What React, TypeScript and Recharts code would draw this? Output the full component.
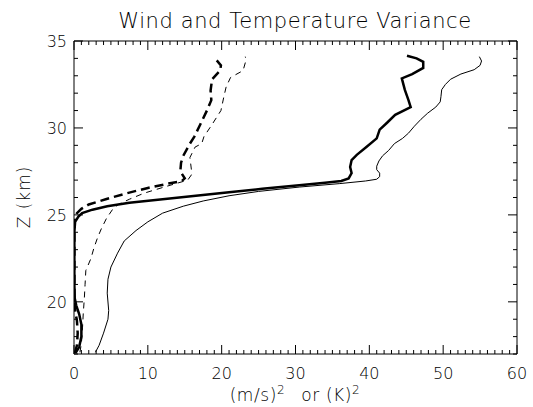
import React from "react";
import {
  ScatterChart,
  Scatter,
  XAxis,
  YAxis,
  Customized,
} from "recharts";

// heights (km) and variances for each profile
const thickSolidZ = [17.05, 17.4, 18.0, 18.7, 19.3, 19.8, 20.2, 21, 22, 23, 24, 24.6, 24.9, 25.1, 25.3, 25.5, 25.7, 25.9, 26.1, 26.3, 26.5, 26.7, 26.85, 26.95, 27.1, 27.4, 27.75, 28.15, 28.45, 28.9, 29.4, 29.9, 30.3, 30.75, 31.2, 31.6, 32.2, 32.85, 33.1, 33.45, 33.8, 34.0, 34.15];
const thickSolidX = [0.2, 0.7, 1.0, 1.0, 0.7, 0.3, 0.1, 0.05, 0.05, 0.05, 0.05, 0.15, 0.6, 1.1, 2.5, 4.5, 7.5, 12.0, 16.5, 21.0, 25.5, 30.5, 34.0, 36.2, 37.2, 37.6, 37.4, 37.6, 38.3, 39.6, 41.0, 41.4, 42.4, 43.5, 45.6, 45.3, 44.8, 44.4, 45.8, 47.3, 47.3, 46.4, 45.1];

const thinSolidZ = [17.1, 17.5, 18.2, 19.0, 19.5, 20.5, 21.3, 22.0, 22.8, 23.5, 24.1, 24.6, 25.1, 25.5, 25.8, 26.1, 26.35, 26.6, 26.8, 26.95, 27.05, 27.2, 27.4, 27.6, 27.8, 28.1, 28.4, 28.7, 29.1, 29.4, 29.7, 30.1, 30.5, 30.85, 31.2, 31.5, 31.8, 32.2, 32.5, 32.8, 33.1, 33.35, 33.6, 33.85, 34.1];
const thinSolidX = [2.9, 3.4, 4.0, 4.6, 4.7, 4.5, 4.6, 5.0, 5.9, 6.8, 8.4, 10.0, 12.0, 14.8, 17.5, 21.0, 25.0, 30.5, 36.0, 39.5, 41.0, 41.4, 41.4, 41.0, 41.0, 41.3, 41.8, 42.6, 43.4, 44.5, 45.3, 46.1, 47.0, 47.9, 49.0, 49.6, 49.7, 49.8, 50.3, 51.0, 52.4, 54.2, 55.0, 55.2, 54.9];

const thickDashZ = [17.05, 17.5, 18.2, 18.9, 19.5, 20, 21, 22, 23, 24, 24.8, 25.1, 25.35, 25.6, 25.9, 26.25, 26.55, 26.8, 26.95, 27.1, 27.5, 28.0, 28.4, 29.1, 29.5, 30.2, 31.0, 31.6, 32.15, 32.8, 33.3, 33.6, 34.1];
const thickDashX = [0.1, 0.4, 0.5, 0.4, 0.15, 0.05, 0.05, 0.05, 0.05, 0.05, 0.1, 0.4, 1.0, 2.0, 4.3, 7.2, 10.0, 12.8, 14.6, 15.0, 14.4, 14.5, 14.8, 15.7, 16.3, 17.1, 18.0, 18.6, 18.5, 18.7, 19.8, 19.9, 18.9];

const thinDashZ = [17.1, 17.6, 18.5, 19.3, 20.2, 21.0, 21.8, 22.5, 23.1, 23.7, 24.2, 24.8, 25.3, 25.6, 25.9, 26.25, 26.6, 26.85, 27.0, 27.3, 27.6, 28.3, 28.9, 29.1, 29.5, 30.2, 31.0, 31.8, 32.35, 32.9, 33.3, 33.9, 34.1];
const thinDashX = [0.8, 1.0, 1.15, 1.25, 1.4, 1.5, 1.6, 2.3, 2.7, 3.2, 3.7, 4.4, 5.2, 6.0, 7.5, 9.5, 12.2, 14.2, 15.4, 15.9, 15.9, 15.7, 16.4, 17.3, 17.6, 18.7, 19.9, 20.3, 20.6, 21.2, 22.9, 23.3, 23.2];

const xMajor = [0, 10, 20, 30, 40, 50, 60];
const zMajor = [20, 25, 30, 35];
const xTicks = Array.from({ length: 61 }, (_, i) => i);
const zTicks = Array.from({ length: 19 }, (_, i) => 17 + i);

const toPoints = (xs: number[], zs: number[]) => xs.map((x, i) => ({ x, z: zs[i] }));

const FONT = "'DejaVu Sans', sans-serif";
const MAJOR = 9;
const MINOR = 4;

function BottomTick({ x, y, payload }: any) {
  const major = xMajor.includes(payload.value);
  return (
    <g>
      <line x1={x} x2={x} y1={y} y2={y - (major ? MAJOR : MINOR)} stroke="#000" />
      {major && (
        <text x={x} y={y + 25} textAnchor="middle" fontSize={16} fontFamily={FONT} fontWeight={300} fill="#000">
          {payload.value}
        </text>
      )}
    </g>
  );
}

function TopTick({ x, y, payload }: any) {
  const major = xMajor.includes(payload.value);
  return <line x1={x} x2={x} y1={y} y2={y + (major ? MAJOR : MINOR)} stroke="#000" />;
}

function LeftTick({ x, y, payload }: any) {
  const major = zMajor.includes(payload.value);
  return (
    <g>
      <line x1={x} x2={x + (major ? MAJOR : MINOR)} y1={y} y2={y} stroke="#000" />
      {major && (
        <text x={x - 7} y={y + 6} textAnchor="end" fontSize={16} fontFamily={FONT} fontWeight={300} fill="#000">
          {payload.value}
        </text>
      )}
    </g>
  );
}

function RightTick({ x, y, payload }: any) {
  const major = zMajor.includes(payload.value);
  return <line x1={x} x2={x - (major ? MAJOR : MINOR)} y1={y} y2={y} stroke="#000" />;
}

function Labels() {
  return (
    <g fontFamily={FONT} fontWeight={300} fill="#000">
      <text x={295} y={28} textAnchor="middle" fontSize={21} letterSpacing={0.6}>
        Wind and Temperature Variance
      </text>
      <text x={295} y={401} textAnchor="middle" fontSize={17} letterSpacing={0.6}>
        <tspan>(m/s)</tspan>
        <tspan dy={-7} fontSize={12}>2</tspan>
        <tspan dy={7} dx={16}>or (K)</tspan>
        <tspan dy={-7} fontSize={12}>2</tspan>
      </text>
      <text x={30} y={197} textAnchor="middle" fontSize={17} letterSpacing={1} transform="rotate(-90 30 197)">
        Z (km)
      </text>
    </g>
  );
}

const noDot = () => <g />;

export default function App() {
  const thinSolid = toPoints(thinSolidX, thinSolidZ);
  return (
    <div style={{ position: "absolute", left: 0, top: 0, background: "#fff" }}>
      <ScatterChart width={533} height={407} margin={{ top: 40, right: 15, bottom: 0, left: 0 }}>
        <XAxis
          xAxisId="b"
          dataKey="x"
          type="number"
          domain={[0, 60]}
          ticks={xTicks}
          interval={0}
          allowDataOverflow
          height={53}
          tickSize={0}
          tickMargin={0}
          tick={<BottomTick />}
          axisLine={{ stroke: "#000" }}
        />
        <XAxis
          xAxisId="t"
          orientation="top"
          dataKey="x"
          type="number"
          domain={[0, 60]}
          ticks={xTicks}
          interval={0}
          allowDataOverflow
          height={1}
          tickSize={0}
          tickMargin={0}
          tick={<TopTick />}
          axisLine={{ stroke: "#000" }}
        />
        <YAxis
          yAxisId="l"
          dataKey="z"
          type="number"
          domain={[17, 35]}
          ticks={zTicks}
          interval={0}
          allowDataOverflow
          width={74}
          tickSize={0}
          tickMargin={0}
          tick={<LeftTick />}
          axisLine={{ stroke: "#000" }}
        />
        <YAxis
          yAxisId="r"
          orientation="right"
          dataKey="z"
          type="number"
          domain={[17, 35]}
          ticks={zTicks}
          interval={0}
          allowDataOverflow
          width={1}
          tickSize={0}
          tickMargin={0}
          tick={<RightTick />}
          axisLine={{ stroke: "#000" }}
        />
        {/* invisible series so the mirrored top/right axes get a domain */}
        <Scatter
          xAxisId="t"
          yAxisId="r"
          data={thinSolid}
          shape={noDot}
          isAnimationActive={false}
        />
        <Scatter
          xAxisId="b"
          yAxisId="l"
          data={thinSolid}
          line={{ stroke: "#000", strokeWidth: 1 }}
          shape={noDot}
          isAnimationActive={false}
        />
        <Scatter
          xAxisId="b"
          yAxisId="l"
          data={toPoints(thinDashX, thinDashZ)}
          line={{ stroke: "#000", strokeWidth: 1, strokeDasharray: "6 5" }}
          shape={noDot}
          isAnimationActive={false}
        />
        <Scatter
          xAxisId="b"
          yAxisId="l"
          data={toPoints(thickSolidX, thickSolidZ)}
          line={{ stroke: "#000", strokeWidth: 2.5 }}
          shape={noDot}
          isAnimationActive={false}
        />
        <Scatter
          xAxisId="b"
          yAxisId="l"
          data={toPoints(thickDashX, thickDashZ)}
          line={{ stroke: "#000", strokeWidth: 2.5, strokeDasharray: "9 5" }}
          shape={noDot}
          isAnimationActive={false}
        />
        <Customized component={Labels} />
      </ScatterChart>
    </div>
  );
}
